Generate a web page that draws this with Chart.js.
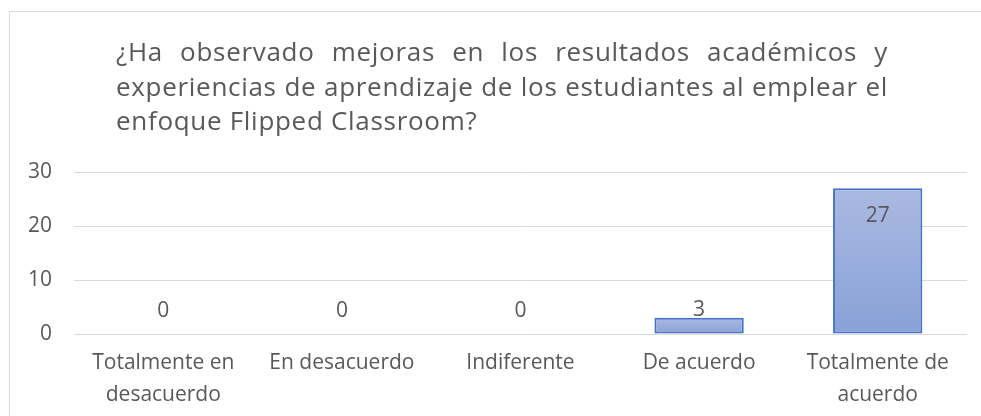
<!DOCTYPE html>
<html>
<head>
<meta charset="utf-8">
<script src="https://cdn.jsdelivr.net/npm/chart.js@4.4.1/dist/chart.umd.min.js"></script>
<style>
  html, body { margin: 0; padding: 0; background: #fff; }
  #wrap { width: 981px; height: 416px; }
</style>
</head>
<body>
<div id="wrap"><canvas id="chart" width="981" height="416"></canvas></div>
<script>
const categories = [['Totalmente en', 'desacuerdo'], 'En desacuerdo', 'Indiferente', 'De acuerdo', ['Totalmente de', 'acuerdo']];
const values = [0, 0, 0, 3, 27];
const yTicks = [0, 10, 20, 30];
const titleLines = [
  '¿Ha observado mejoras en los resultados académicos  y',
  'experiencias de aprendizaje de los estudiantes al emplear  el',
  'enfoque Flipped Classroom?'
];

const textColor = '#595959';
const fontFamily = '"Open Sans", sans-serif';

// outer frame + justified title (Excel style)
const frameTitle = {
  id: 'frameTitle',
  beforeDraw(chart) {
    const ctx = chart.ctx;
    ctx.save();
    ctx.strokeStyle = '#d9d9d9';
    ctx.lineWidth = 1;
    ctx.strokeRect(9.5, 11.5, 1200, 600);
    ctx.restore();
  },
  afterDraw(chart) {
    const ctx = chart.ctx;
    const left = 116, right = 888;
    const baselines = [61, 96, 130];
    ctx.save();
    ctx.fillStyle = textColor;
    ctx.font = '26px ' + fontFamily;
    ctx.letterSpacing = '0.7px';
    ctx.textBaseline = 'alphabetic';
    ctx.textAlign = 'left';
    titleLines.forEach((line, i) => {
      const words = line.split(' ').filter(w => w.length);
      if (i === titleLines.length - 1) {
        ctx.fillText(words.join(' '), left, baselines[i]);
        return;
      }
      const widths = words.map(w => ctx.measureText(w).width);
      const total = widths.reduce((a, b) => a + b, 0);
      const gap = (right - left - total) / (words.length - 1);
      let x = left;
      words.forEach((w, j) => {
        ctx.fillText(w, x, baselines[i]);
        x += widths[j] + gap;
      });
    });
    ctx.restore();
  }
};

// value labels above / inside bars
const valueLabels = {
  id: 'valueLabels',
  afterDatasetsDraw(chart) {
    const ctx = chart.ctx;
    const meta = chart.getDatasetMeta(0);
    ctx.save();
    ctx.fillStyle = textColor;
    ctx.font = '21px ' + fontFamily;
    ctx.textAlign = 'center';
    ctx.textBaseline = 'middle';
    meta.data.forEach((bar, i) => {
      let cy = Math.min(bar.y - 7, bar.base - 23);
      if (cy - 11 < chart.chartArea.top) cy = bar.y + 28;
      ctx.fillText(String(values[i]), bar.x, cy);
    });
    ctx.restore();
  }
};

function barFill(context) {
  const chart = context.chart;
  const yScale = chart.scales.y;
  if (!chart.chartArea || !yScale) return '#98acdc';
  const v = values[context.dataIndex];
  const top = yScale.getPixelForValue(v);
  const bottom = yScale.getPixelForValue(0);
  if (bottom - top < 1) return '#98acdc';
  const g = chart.ctx.createLinearGradient(0, top, 0, bottom);
  g.addColorStop(0, '#aab9e1');
  g.addColorStop(1, '#89a1d8');
  return g;
}

new Chart(document.getElementById('chart'), {
  type: 'bar',
  data: {
    labels: categories,
    datasets: [{
      data: values,
      backgroundColor: barFill,
      borderColor: '#4472c4',
      borderWidth: 2,
      borderSkipped: false,
      barPercentage: 0.5,
      categoryPercentage: 1.0
    }]
  },
  options: {
    responsive: false,
    animation: false,
    layout: { padding: { left: 10, right: 14, top: 172, bottom: 0 } },
    plugins: {
      legend: { display: false },
      title: { display: false },
      tooltip: { enabled: false }
    },
    scales: {
      x: {
        grid: { display: false, drawTicks: false },
        border: { display: false },
        ticks: {
          color: textColor,
          font: { family: fontFamily, size: 21, lineHeight: 32 / 21 },
          padding: 13,
          maxRotation: 0,
          autoSkip: false
        },
        afterFit(scale) { scale.height = 82; }
      },
      y: {
        min: yTicks[0],
        max: yTicks[yTicks.length - 1],
        grid: { color: '#d9d9d9', lineWidth: 1, drawTicks: false },
        border: { display: false },
        ticks: {
          stepSize: yTicks[1] - yTicks[0],
          color: textColor,
          font: { family: fontFamily, size: 21 },
          padding: 22
        },
        afterFit(scale) { scale.width = 64; }
      }
    }
  },
  plugins: [frameTitle, valueLabels]
});
</script>
</body>
</html>
